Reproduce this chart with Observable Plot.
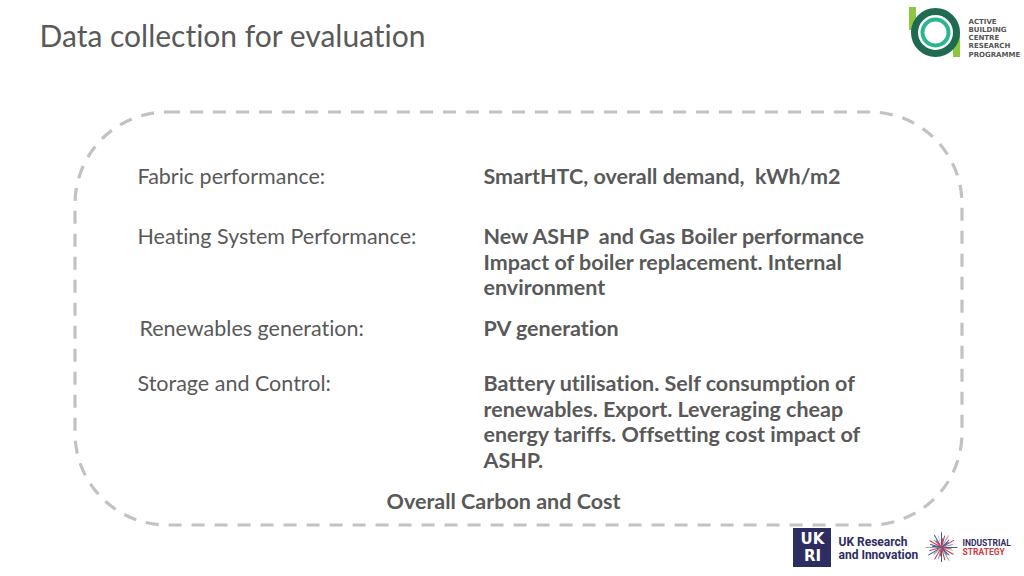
<!DOCTYPE html>
<html><head><meta charset="utf-8">
<script src="https://cdn.jsdelivr.net/npm/d3@7"></script>
<script src="https://cdn.jsdelivr.net/npm/@observablehq/plot@0.6"></script>
<style>
html,body{margin:0;padding:0;background:#fff;overflow:hidden;}
svg{display:block;}
svg text{font-variant-ligatures:none;font-feature-settings:"liga" 0;}
</style>
</head><body>
<div id="chart"></div>
<script>
// Slide content
const titleText = ["Data collection for evaluation"];
const categories = ["Fabric performance:", "Heating System Performance:", "Renewables generation:", "Storage and Control:"];
const categoryRows = [177, 237, 329, 384];
const categoryX = [137, 137, 139, 137];
const details = [
  ["SmartHTC, overall demand,  kWh/m2"],
  ["New ASHP  and Gas Boiler performance", "Impact of boiler replacement. Internal", "environment"],
  ["PV generation"],
  ["Battery utilisation. Self consumption of", "renewables. Export. Leveraging cheap", "energy tariffs. Offsetting cost impact of", "ASHP."]
];
const footerText = ["Overall Carbon and Cost"];
const abcLines = ["ACTIVE", "BUILDING", "CENTRE", "RESEARCH", "PROGRAMME"];
const ukriLines = ["UK Research", "and Innovation"];
const isLines = ["INDUSTRIAL", "STRATEGY"];
const isColors = ["#2e2d62", "#d0393e"];
const burstAngles = [0, 15, 30, 45, 60, 75, 90, 105, 120, 135, 150, 165, 180, 195, 210, 225, 240, 255, 270, 285, 300, 315, 330, 345, 8, 52, 98, 142, 188, 232, 278, 322];
const burstLengths = [21, 17, 19, 15, 20, 16, 22, 17, 19, 15, 21, 18, 20, 16, 19, 15, 21, 17, 22, 16, 19, 15, 20, 17, 13, 12, 14, 13, 12, 14, 13, 12];
const burstColors = ["#3d5a9e", "#d0393e", "#9aa3b5", "#3d5a9e", "#d0393e", "#7d8fb8", "#3d5a9e", "#c4c9d4", "#d0393e", "#3d5a9e", "#9aa3b5", "#d0393e", "#3d5a9e", "#7d8fb8", "#d0393e", "#c4c9d4", "#3d5a9e", "#d0393e", "#9aa3b5", "#3d5a9e", "#d0393e", "#7d8fb8", "#3d5a9e", "#c4c9d4", "#d0393e", "#3d5a9e", "#d0393e", "#3d5a9e", "#d0393e", "#9aa3b5", "#3d5a9e", "#d0393e"];

// Derived tables
const leftRows = categories.map((c, i) => ({text: c, x: categoryX[i], y: categoryRows[i]}));
const lineGap = 25.5;
const rightRows = details.flatMap((lines, i) => lines.map((t, j) => ({text: t, x: 483, y: categoryRows[i] + j * lineGap})));
const abcRows = abcLines.map((t, i) => ({text: t, y: 21 + i * 8.2}));
const ukriRows = ukriLines.map((t, i) => ({text: t, y: 542 + i * 13}));
const isRows = isLines.map((t, i) => ({text: t, y: 543 + i * 8.5, color: isColors[i]}));
const burst = burstAngles.map((a, i) => ({a, len: burstLengths[i], color: burstColors[i]}));

const font = "Lato, 'Open Sans', sans-serif";
const grey = "#595959";

const chart = Plot.plot({
  width: 1024, height: 576, margin: 0,
  style: {fontFamily: font, background: "#fff"},
  x: {domain: [0, 1024], range: [0, 1024], axis: null},
  y: {domain: [0, 576], range: [0, 576], axis: null},
  marks: [
    // dashed rounded frame
    Plot.rect([{x1: 75, x2: 962, y1: 112, y2: 525}], {
      x1: "x1", x2: "x2", y1: "y1", y2: "y2", rx: 92,
      fill: "none", stroke: "#c2c2c2", strokeWidth: 3.2, strokeDasharray: "13,10"
    }),
    // title
    Plot.text(titleText, {x: () => 39, y: () => 37, text: d => d, textAnchor: "start", lineAnchor: "middle", fontSize: 30, fill: grey}),
    // categories
    Plot.text(leftRows, {x: "x", y: "y", text: "text", textAnchor: "start", lineAnchor: "middle", fontSize: 21.5, fill: grey}),
    // details
    Plot.text(rightRows, {x: "x", y: "y", text: "text", textAnchor: "start", lineAnchor: "middle", fontSize: 21.5, fontWeight: "bold", fill: grey}),
    // footer
    Plot.text(footerText, {x: () => 503, y: () => 502, text: d => d, textAnchor: "middle", lineAnchor: "middle", fontSize: 21.5, fontWeight: "bold", fill: grey}),
    // ABC logo
    Plot.rect([{x1: 909, x2: 916, y1: 7, y2: 30}], {x1: "x1", x2: "x2", y1: "y1", y2: "y2", fill: "#8dc63f"}),
    Plot.rect([{x1: 953, x2: 960, y1: 34, y2: 57}], {x1: "x1", x2: "x2", y1: "y1", y2: "y2", fill: "#8dc63f"}),
    Plot.dot([{x: 935, y: 32}], {x: "x", y: "y", r: 21, fill: "none", stroke: "#1e6b52", strokeWidth: 7}),
    Plot.dot([{x: 935, y: 32}], {x: "x", y: "y", r: 13, fill: "none", stroke: "#2cb58f", strokeWidth: 4}),
    Plot.text(abcRows, {x: () => 968, y: "y", text: "text", textAnchor: "start", lineAnchor: "middle", fontSize: 7, fontWeight: "bold", fill: "#555", fontFamily: "'DejaVu Sans', sans-serif", letterSpacing: 0.5}),
    // UKRI logo
    Plot.rect([{x1: 793, x2: 831, y1: 528, y2: 567}], {x1: "x1", x2: "x2", y1: "y1", y2: "y2", fill: "#2e2d62"}),
    Plot.text(["UK"], {x: () => 812, y: () => 539, text: d => d, fontSize: 15, fontWeight: "bold", fill: "#fff", fontFamily: "'DejaVu Sans', sans-serif"}),
    Plot.text(["RI"], {x: () => 812, y: () => 556, text: d => d, fontSize: 15, fontWeight: "bold", fill: "#fff", fontFamily: "'DejaVu Sans', sans-serif"}),
    Plot.text(ukriRows, {x: () => 838, y: "y", text: "text", textAnchor: "start", lineAnchor: "middle", fontSize: 12, fontWeight: "bold", fill: "#2e2d62", fontFamily: "Roboto, sans-serif"}),
    // Industrial strategy starburst
    Plot.vector(burst, {x: () => 941, y: () => 547, rotate: "a", length: "len", stroke: "color", strokeWidth: 1, anchor: "start", shape: {draw(ctx, l) { ctx.moveTo(0, 0); ctx.lineTo(0, -l); }}}),
    Plot.text(isRows, {x: () => 962, y: "y", text: "text", fill: "color", textAnchor: "start", lineAnchor: "middle", fontSize: 8.5, fontWeight: "bold", fontFamily: "Roboto, sans-serif"})
  ]
});
document.getElementById("chart").appendChild(chart);
</script>
</body></html>
